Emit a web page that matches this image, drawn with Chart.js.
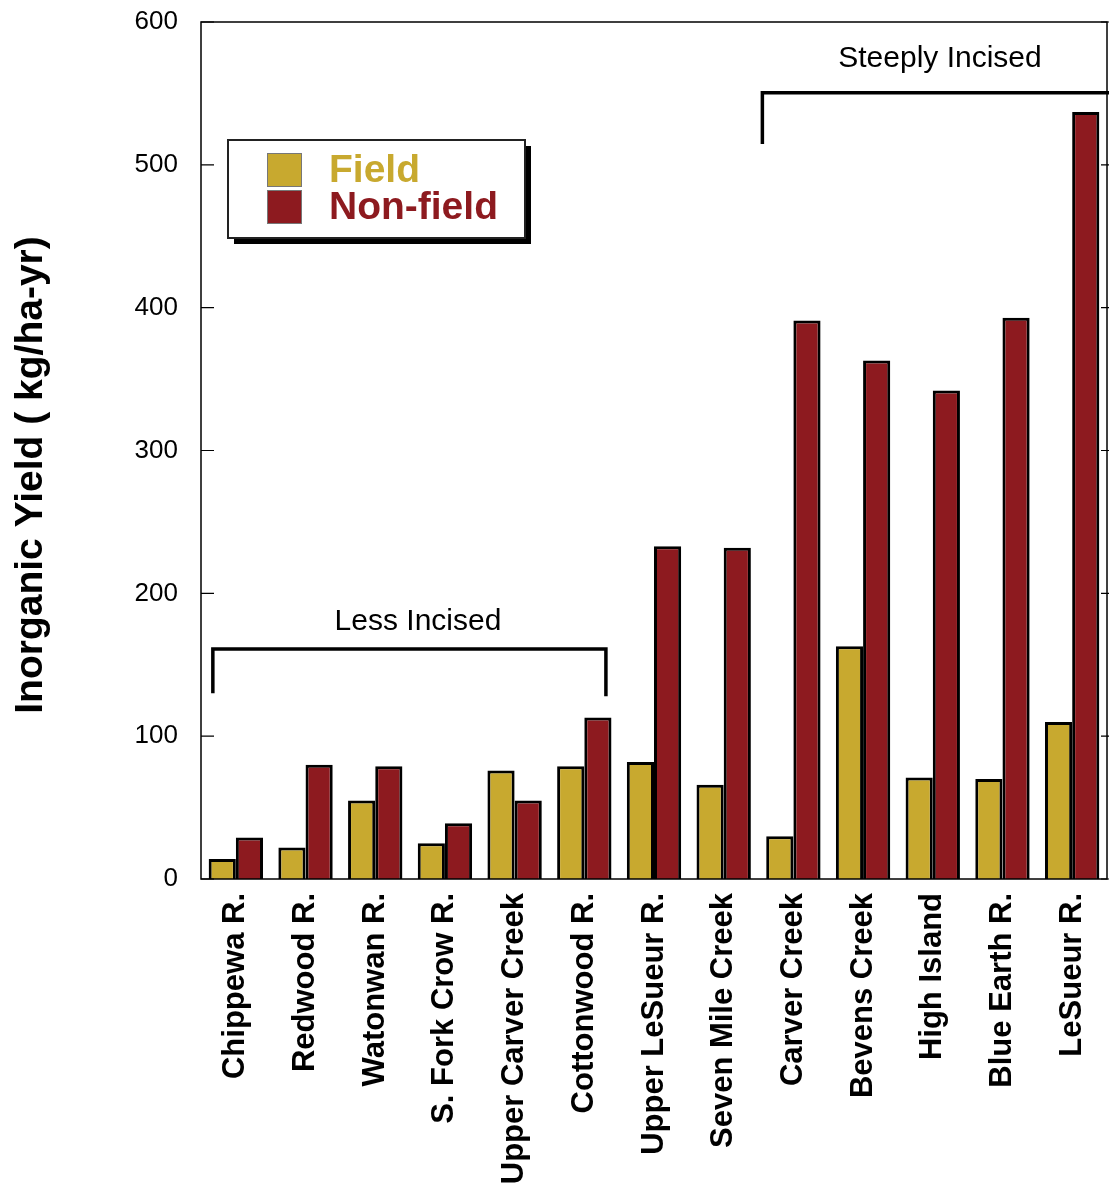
<!DOCTYPE html>
<html>
<head>
<meta charset="utf-8">
<script src="https://cdn.jsdelivr.net/npm/chart.js@4"></script>
<style>
  body { margin: 0; background: #fff; }
  canvas { display: block; }
</style>
</head>
<body>
<canvas id="yieldChart" width="1109" height="1190"></canvas>
<script>
var streams = ['Chippewa R.', 'Redwood R.', 'Watonwan R.', 'S. Fork Crow R.', 'Upper Carver Creek',
	'Cottonwood R.', 'Upper LeSueur R.', 'Seven Mile Creek', 'Carver Creek', 'Bevens Creek',
	'High Island', 'Blue Earth R.', 'LeSueur R.'];
let field = [14, 22, 55, 25, 76, 79, 82, 66, 30, 163, 71, 70, 110];
let nonField = [29, 80, 79, 39, 55, 113, 233, 232, 391, 363, 342, 393, 537];
let yTicks = [0, 100, 200, 300, 400, 500, 600];

var FONT = '"Liberation Sans", Arial, Helvetica, sans-serif';
var GOLD = '#c8a92f';
var RED = '#8d1a1f';

// frame, inward ticks, brackets, legend and y title
var extras = {
	id: 'extras',
	afterDatasetsDraw: function(chart) {
		var c = chart.ctx, a = chart.chartArea;
		var xs = chart.scales.x, ys = chart.scales.y;
		var w = xs.width / streams.length;
		c.save();

		// plot frame
		c.strokeStyle = '#000';
		c.lineWidth = 1.5;
		c.strokeRect(a.left, a.top, a.right - a.left, a.bottom - a.top);

		// inward ticks left and right
		c.lineWidth = 1.2;
		yTicks.forEach(function(v) {
			var y = ys.getPixelForValue(v);
			c.beginPath();
			c.moveTo(a.left, y); c.lineTo(a.left + 13, y);
			c.moveTo(a.right - 6, y); c.lineTo(a.right + 2, y);
			c.stroke();
		});

		// brackets
		c.lineWidth = 3.5;
		c.lineCap = 'butt';
		var l1 = xs.getPixelForValue(0) - 0.33 * w, r1 = xs.getPixelForValue(5) + 0.31 * w;
		var yb1 = ys.getPixelForValue(161);
		c.beginPath();
		c.moveTo(l1, ys.getPixelForValue(130)); c.lineTo(l1, yb1);
		c.lineTo(r1, yb1); c.lineTo(r1, ys.getPixelForValue(128));
		c.stroke();

		var l2 = xs.getPixelForValue(8) - 0.445 * w;
		var yb2 = ys.getPixelForValue(550.4);
		c.beginPath();
		c.moveTo(l2, ys.getPixelForValue(514.5)); c.lineTo(l2, yb2);
		c.lineTo(chart.width + 5, yb2);
		c.stroke();

		c.fillStyle = '#000';
		c.font = '30px ' + FONT;
		c.textAlign = 'center';
		c.textBaseline = 'middle';
		c.fillText('Less Incised', 418, ys.getPixelForValue(180));
		c.fillText('Steeply Incised', 940, ys.getPixelForValue(574));

		// legend box with drop shadow
		var bx = 228, by = 140, bw = 297, bh = 98;
		c.fillStyle = '#000';
		c.fillRect(bx + 6, by + 6, bw, bh);
		c.fillStyle = '#fff';
		c.fillRect(bx, by, bw, bh);
		c.lineWidth = 2;
		c.strokeStyle = '#222';
		c.strokeRect(bx, by, bw, bh);

		c.font = 'bold 39px ' + FONT;
		c.textAlign = 'left';
		c.textBaseline = 'middle';
		chart.data.datasets.forEach(function(ds, i) {
			var sy = 153 + i * 37;
			c.fillStyle = ds.backgroundColor;
			c.fillRect(267, sy, 35, 34);
			c.lineWidth = 1;
			c.strokeStyle = '#777';
			c.strokeRect(267.5, sy + 0.5, 34, 33);
			c.fillStyle = ds.backgroundColor;
			c.fillText(ds.label, 329, sy + 18);
		});

		// y axis title
		c.translate(31, 475);
		c.rotate(-Math.PI / 2);
		c.fillStyle = '#000';
		c.font = 'bold 39px ' + FONT;
		c.textAlign = 'center';
		c.textBaseline = 'middle';
		c.fillText('Inorganic Yield ( kg/ha-yr)', 0, 0);

		c.restore();
	}
};

var ctx = document.getElementById('yieldChart').getContext('2d');
var yieldChart = new Chart(ctx, {
	type: 'bar',
	data: {
		labels: streams,
		datasets: [
			{
				label: 'Field',
				data: field,
				backgroundColor: GOLD,
				borderColor: '#000',
				borderWidth: 3
			},
			{
				label: 'Non-field',
				data: nonField,
				backgroundColor: RED,
				borderColor: '#000',
				borderWidth: 3
			}
		]
	},
	options: {
		responsive: false,
		animation: false,
		devicePixelRatio: 1,
		layout: { padding: { left: 0, top: 22, right: 2, bottom: 0 } },
		datasets: {
			bar: { categoryPercentage: 0.78, barPercentage: 1.0 }
		},
		scales: {
			x: {
				grid: { display: false, drawTicks: false },
				border: { display: false },
				ticks: {
					autoSkip: false,
					minRotation: 90,
					maxRotation: 90,
					padding: 14,
					color: '#000',
					font: { size: 31, weight: 'bold', family: FONT }
				},
				afterFit: function(scale) {
					scale.height = 311;
					scale.paddingLeft = 0;
					scale.paddingRight = 0;
				}
			},
			y: {
				min: 0,
				max: 600,
				grid: { display: false, drawTicks: false },
				border: { display: false },
				ticks: {
					stepSize: 100,
					padding: 23,
					color: '#000',
					font: { size: 26, family: FONT }
				},
				afterFit: function(scale) {
					scale.width = 201;
					scale.paddingTop = 0;
					scale.paddingBottom = 0;
				}
			}
		},
		plugins: {
			legend: { display: false },
			tooltip: { enabled: false }
		}
	},
	plugins: [extras]
});
</script>
</body>
</html>
